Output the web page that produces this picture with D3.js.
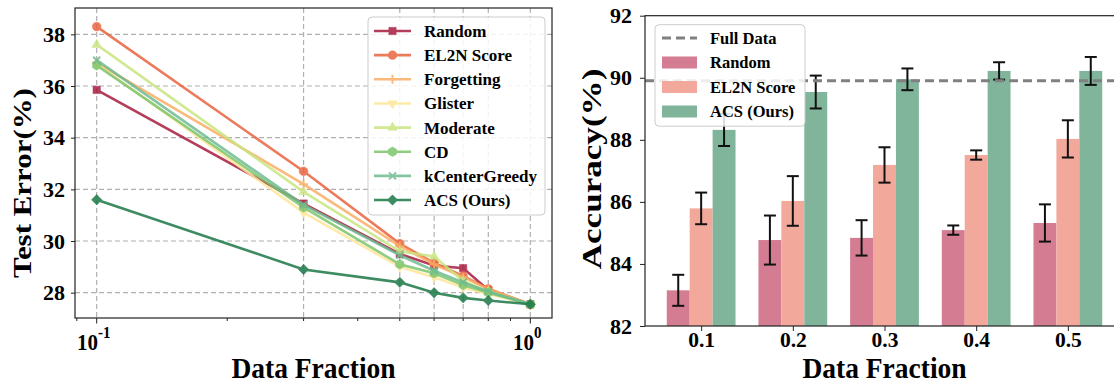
<!DOCTYPE html>
<meta charset="utf-8">
<html>
<head>
<script src="https://d3js.org/d3.v7.min.js"></script>
<style>
  body { margin: 0; background: #fff; }
  text { font-family: "Liberation Serif", "Times New Roman", serif; font-weight: bold; fill: #000; }
</style>
</head>
<body>
<svg width="1114" height="384"></svg>
<script>
// ---------------- data ----------------
var fractions = [0.1, 0.3, 0.5, 0.6, 0.7, 0.8, 1.0];
var methods = ["Random", "EL2N Score", "Forgetting", "Glister", "Moderate", "CD", "kCenterGreedy", "ACS (Ours)"];
var errRandom   = [35.85, 31.45, 29.50, 29.05, 28.95, 28.10, 27.55];
var errEL2N     = [38.30, 32.70, 29.90, 29.15, 28.65, 28.15, 27.55];
var errForget   = [36.90, 32.20, 29.80, 29.10, 28.60, 28.15, 27.55];
var errGlister  = [36.85, 31.10, 29.00, 28.60, 28.20, 27.95, 27.55];
var errModerate = [37.60, 31.90, 29.60, 29.40, 28.45, 28.05, 27.55];
var errCD       = [36.80, 31.30, 29.10, 28.75, 28.30, 28.00, 27.55];
var errKCenter  = [37.00, 31.40, 29.45, 28.85, 28.40, 28.05, 27.55];
var errACS      = [31.60, 28.90, 28.40, 28.00, 27.80, 27.70, 27.55];
var yTicksLeft = [28, 30, 32, 34, 36, 38];

var barFractions = ["0.1", "0.2", "0.3", "0.4", "0.5"];
var barMethods = ["Random", "EL2N Score", "ACS (Ours)"];
var accRandom = [83.15, 84.77, 84.84, 85.09, 85.32];
var accRandomErr = [0.50, 0.79, 0.57, 0.15, 0.60];
var accEL2N = [85.79, 86.03, 87.19, 87.51, 88.03];
var accEL2NErr = [0.51, 0.80, 0.57, 0.15, 0.60];
var accACS = [88.32, 89.54, 89.95, 90.22, 90.22];
var accACSErr = [0.52, 0.53, 0.35, 0.28, 0.45];
var fullData = 89.9;
var yTicksRight = [82, 84, 86, 88, 90, 92];

var svg = d3.select("svg");

// ---------------- marker shapes ----------------
function poly(n, r, rot) {
  var p = [];
  for (var i = 0; i < n; i++) {
    var a = rot + i * 2 * Math.PI / n;
    p.push([r * Math.cos(a), r * Math.sin(a)]);
  }
  return "M" + p.map(function(d) { return d[0].toFixed(2) + "," + d[1].toFixed(2); }).join("L") + "Z";
}
var markerPath = {
  "Random": poly(4, 5.2, Math.PI / 4),
  "EL2N Score": d3.symbol(d3.symbolCircle, 60)(),
  "Forgetting": "M-4.5,0L4.5,0M0,-4.5L0,4.5",
  "Glister": poly(3, 5.5, Math.PI / 2),
  "Moderate": poly(3, 5.5, -Math.PI / 2),
  "CD": poly(6, 4.8, -Math.PI / 2),
  "kCenterGreedy": "M-3.5,-3.5L3.5,3.5M-3.5,3.5L3.5,-3.5",
  "ACS (Ours)": poly(4, 5.2, 0)
};
var strokeMarker = { "Forgetting": true, "kCenterGreedy": true };

// ---------------- left: test error ----------------
var L = { left: 75, right: 552, top: 8, bottom: 318 };
var xL = d3.scaleLog().domain([Math.pow(10, -1.05), Math.pow(10, 0.05)]).range([L.left, L.right]);
var yL = d3.scaleLinear().domain([27.02, 39.02]).range([L.bottom, L.top]);
var colorL = d3.scaleOrdinal().domain(methods)
  .range(["#a81c40", "#e9643f", "#fbae66", "#fee79a", "#c8e680", "#7cc56c", "#6fbb92", "#1c7846"]);
var seriesL = [errRandom, errEL2N, errForget, errGlister, errModerate, errCD, errKCenter, errACS];

var gL = svg.append("g");
// grid
gL.append("g").selectAll("line").data(yTicksLeft).enter().append("line")
  .attr("x1", L.left).attr("x2", L.right)
  .attr("y1", function(d) { return yL(d); }).attr("y2", function(d) { return yL(d); })
  .attr("stroke", "#b0b0b0").attr("stroke-width", 1.2).attr("stroke-dasharray", "5,3");
gL.append("g").selectAll("line").data(fractions).enter().append("line")
  .attr("x1", function(d) { return xL(d); }).attr("x2", function(d) { return xL(d); })
  .attr("y1", L.top).attr("y2", L.bottom)
  .attr("stroke", "#b0b0b0").attr("stroke-width", 1.2).attr("stroke-dasharray", "5,3");

var line = d3.line().x(function(d, i) { return xL(fractions[i]); }).y(function(d) { return yL(d); });
seriesL.forEach(function(s, k) {
  var m = methods[k], c = colorL(m);
  var g = gL.append("g").attr("opacity", 0.85);
  g.append("path").datum(s).attr("d", line).attr("fill", "none")
    .attr("stroke", c).attr("stroke-width", 2.6);
  g.selectAll("path.mk").data(s).enter().append("path").attr("class", "mk")
    .attr("d", markerPath[m])
    .attr("transform", function(d, i) { return "translate(" + xL(fractions[i]) + "," + yL(d) + ")"; })
    .attr("fill", strokeMarker[m] ? "none" : c)
    .attr("stroke", c).attr("stroke-width", strokeMarker[m] ? 2 : 0.5);
});

// frame
gL.append("rect").attr("x", L.left).attr("y", L.top).attr("width", L.right - L.left).attr("height", L.bottom - L.top)
  .attr("fill", "none").attr("stroke", "#222").attr("stroke-width", 1.2);

// y axis
var yAxL = gL.append("g").attr("transform", "translate(" + L.left + ",0)")
  .call(d3.axisLeft(yL).tickValues(yTicksLeft).tickSize(4).tickPadding(6));
yAxL.select(".domain").remove();
yAxL.selectAll("text").style("font-size", "22px").attr("font-family", null);
yAxL.selectAll("line").attr("stroke", "#222");

// x axis (log) with minor ticks
var minor = [0.09, 0.2, 0.3, 0.4, 0.5, 0.6, 0.7, 0.8, 0.9];
gL.append("g").selectAll("line").data(minor).enter().append("line")
  .attr("x1", function(d) { return xL(d); }).attr("x2", function(d) { return xL(d); })
  .attr("y1", L.bottom).attr("y2", L.bottom + 3).attr("stroke", "#222");
gL.append("g").selectAll("line").data([0.1, 1]).enter().append("line")
  .attr("x1", function(d) { return xL(d); }).attr("x2", function(d) { return xL(d); })
  .attr("y1", L.bottom).attr("y2", L.bottom + 5.5).attr("stroke", "#222");
var xLab = gL.append("g").selectAll("text").data([[0.1, "-1"], [1, "0"]]).enter().append("text")
  .attr("transform", function(d) { return "translate(" + (xL(d[0]) - 3) + ",350) scale(1,1.1)"; })
  .attr("text-anchor", "middle").style("font-size", "21px");
xLab.append("tspan").text("10");
xLab.append("tspan").attr("dy", -11).style("font-size", "15px").text(function(d) { return d[1]; });

gL.append("text").attr("transform", "translate(" + (L.left + L.right) / 2 + ",377.5) scale(1,1.06)")
  .attr("text-anchor", "middle").style("font-size", "27.5px").text("Data Fraction");
gL.append("text").attr("transform", "translate(31,183) rotate(-90) scale(1.19,1)").attr("text-anchor", "middle")
  .style("font-size", "26px").text("Test Error(%)");

// legend left
var legL = gL.append("g");
legL.append("rect").attr("x", 368).attr("y", 17).attr("width", 177).attr("height", 198).attr("rx", 4)
  .attr("fill", "#fff").attr("fill-opacity", 0.85).attr("stroke", "#cccccc");
methods.forEach(function(m, k) {
  var y = 31 + k * 24.15, c = colorL(m);
  var g = legL.append("g").attr("opacity", 0.85);
  g.append("line").attr("x1", 374).attr("x2", 411).attr("y1", y).attr("y2", y)
    .attr("stroke", c).attr("stroke-width", 2.6);
  g.append("path").attr("d", markerPath[m]).attr("transform", "translate(392.5," + y + ")")
    .attr("fill", strokeMarker[m] ? "none" : c).attr("stroke", c).attr("stroke-width", strokeMarker[m] ? 2 : 0.5);
  legL.append("text").attr("x", 424).attr("y", y + 6).style("font-size", "17px").text(m);
});

// ---------------- right: accuracy bars ----------------
var R = { left: 645, right: 1124, top: 15.7, bottom: 326 };
var xR = d3.scaleLinear().domain([-0.6125, 4.6125]).range([R.left, R.right]);
var yR = d3.scaleLinear().domain([82, 92]).range([R.bottom, R.top]);
var colorR = d3.scaleOrdinal().domain(barMethods).range(["#d47d92", "#f2a99b", "#80b59b"]);
var barVals = [accRandom, accEL2N, accACS];
var barErrs = [accRandomErr, accEL2NErr, accACSErr];
var bw = 0.25;

var gR = svg.append("g");
barVals.forEach(function(vals, k) {
  var off = (k - 1) * bw;
  gR.append("g").selectAll("rect").data(vals).enter().append("rect")
    .attr("x", function(d, i) { return xR(i + off - bw / 2); })
    .attr("width", xR(bw) - xR(0))
    .attr("y", function(d) { return yR(d); })
    .attr("height", function(d) { return yR(82) - yR(d); })
    .attr("fill", colorR(barMethods[k]));
});
barVals.forEach(function(vals, k) {
  var off = (k - 1) * bw;
  var g = gR.append("g").attr("stroke", "#111").attr("stroke-width", 2);
  vals.forEach(function(v, i) {
    var cx = xR(i + off), e = barErrs[k][i];
    g.append("line").attr("x1", cx).attr("x2", cx).attr("y1", yR(v - e)).attr("y2", yR(v + e));
    g.append("line").attr("x1", cx - 6).attr("x2", cx + 6).attr("y1", yR(v - e)).attr("y2", yR(v - e));
    g.append("line").attr("x1", cx - 6).attr("x2", cx + 6).attr("y1", yR(v + e)).attr("y2", yR(v + e));
  });
});
gR.append("line").attr("x1", R.left).attr("x2", R.right).attr("y1", yR(fullData)).attr("y2", yR(fullData))
  .attr("stroke", "#808080").attr("stroke-width", 3).attr("stroke-dasharray", "9,5");

gR.append("rect").attr("x", R.left).attr("y", R.top).attr("width", R.right - R.left).attr("height", R.bottom - R.top)
  .attr("fill", "none").attr("stroke", "#222").attr("stroke-width", 1.2);

var yAxR = gR.append("g").attr("transform", "translate(" + R.left + ",0)")
  .call(d3.axisLeft(yR).tickValues(yTicksRight).tickSize(5).tickPadding(8));
yAxR.select(".domain").remove();
yAxR.selectAll("text").style("font-size", "22px").attr("font-family", null);
yAxR.selectAll("line").attr("stroke", "#222");

var xAxR = gR.append("g").attr("transform", "translate(0," + R.bottom + ")")
  .call(d3.axisBottom(xR).tickValues(d3.range(barFractions.length))
    .tickFormat(function(i) { return barFractions[i]; }).tickSize(5).tickPadding(6));
xAxR.select(".domain").remove();
xAxR.selectAll("text").style("font-size", "21.5px").attr("font-family", null)
  .attr("y", 21).attr("dy", null);
xAxR.selectAll("line").attr("stroke", "#222");

gR.append("text").attr("transform", "translate(" + (R.left + 1114 + 10) / 2 + ",377.5) scale(1,1.06)")
  .attr("text-anchor", "middle").style("font-size", "27.5px").text("Data Fraction");
gR.append("text").attr("transform", "translate(601,169) rotate(-90) scale(1.3,1)").attr("text-anchor", "middle")
  .style("font-size", "27px").text("Accuracy(%)");

// legend right
var legR = gR.append("g");
legR.append("rect").attr("x", 655).attr("y", 24.7).attr("width", 150).attr("height", 101.5).attr("rx", 4)
  .attr("fill", "#fff").attr("fill-opacity", 0.85).attr("stroke", "#cccccc");
legR.append("line").attr("x1", 662).attr("x2", 697).attr("y1", 38).attr("y2", 38)
  .attr("stroke", "#808080").attr("stroke-width", 3).attr("stroke-dasharray", "9,5");
legR.append("text").attr("x", 710).attr("y", 43.5).style("font-size", "16.5px").text("Full Data");
barMethods.forEach(function(m, k) {
  var y = 62.5 + k * 24.5;
  legR.append("rect").attr("x", 662).attr("y", y - 6).attr("width", 35).attr("height", 12).attr("fill", colorR(m));
  legR.append("text").attr("x", 710).attr("y", y + 5.5).style("font-size", "16.5px").text(m);
});
</script>
</body>
</html>
